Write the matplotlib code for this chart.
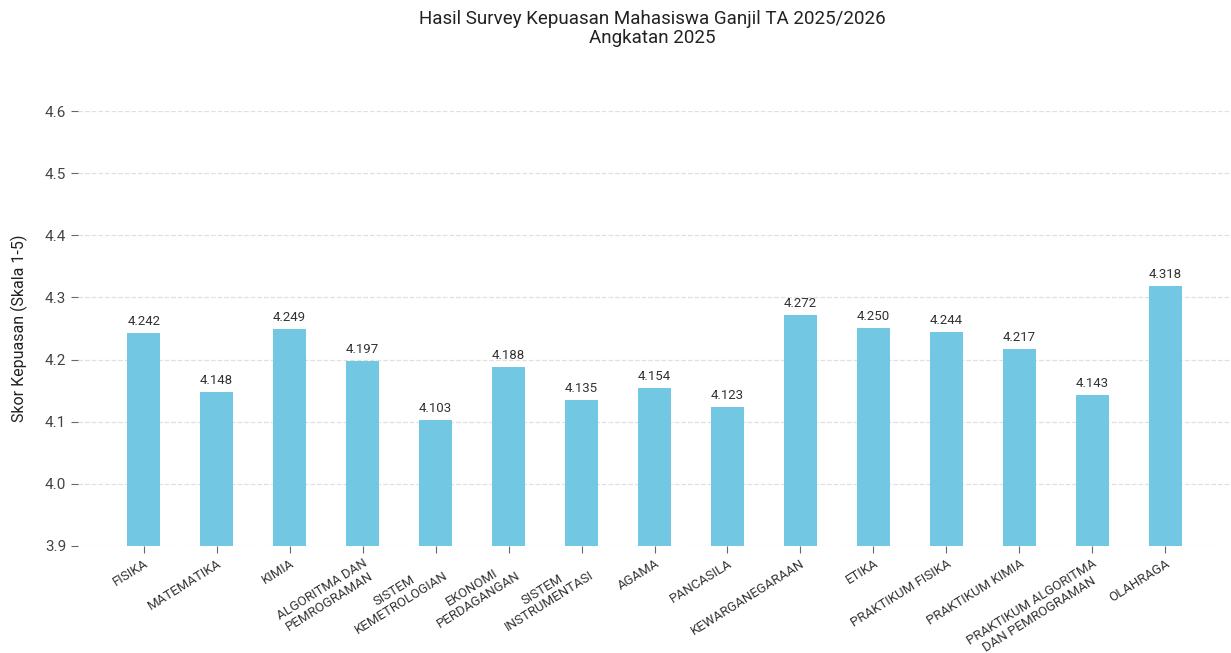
import numpy as np
import matplotlib.pyplot as plt

plt.rcParams['font.family'] = ['Roboto', 'DejaVu Sans']

courses = [
    "FISIKA", "MATEMATIKA", "KIMIA", "ALGORITMA DAN\nPEMROGRAMAN",
    "SISTEM\nKEMETROLOGIAN", "EKONOMI\nPERDAGANGAN", "SISTEM\nINSTRUMENTASI",
    "AGAMA", "PANCASILA", "KEWARGANEGARAAN", "ETIKA", "PRAKTIKUM FISIKA",
    "PRAKTIKUM KIMIA", "PRAKTIKUM ALGORITMA\nDAN PEMROGRAMAN", "OLAHRAGA",
]
scores = [4.242, 4.148, 4.249, 4.197, 4.103, 4.188, 4.135, 4.154,
          4.123, 4.272, 4.250, 4.244, 4.217, 4.143, 4.318]
yticks = [3.9, 4.0, 4.1, 4.2, 4.3, 4.4, 4.5, 4.6]

fig = plt.figure(figsize=(12.31, 6.53), dpi=100)
ax = fig.add_axes([0.0634, 0.164, 0.9366, 0.666])

x = np.arange(len(courses))
ax.bar(x, scores, width=0.45, color="#72C7E3", zorder=2)
for xi, v in zip(x, scores):
    ax.text(xi, v + 0.008, f"{v:.3f}", ha="center", va="bottom",
            fontsize=9.5, color="#333333")

ax.set_xlim(-0.9, len(courses) - 0.1)
ax.set_ylim(3.9, 4.6)
ax.set_yticks(yticks)
ax.set_yticklabels([f"{t:.1f}" for t in yticks], fontsize=11, color="#444444")
ax.set_xticks(x)
ax.set_xticklabels(courses, rotation=32, ha="right", rotation_mode="anchor",
                   fontsize=9.5, color="#333333", multialignment="center",
                   linespacing=1.1)
ax.tick_params(axis="both", color="#666666", length=5)
ax.tick_params(axis="x", pad=3)
ax.grid(axis="y", linestyle="--", color="#E0E0E0", linewidth=0.9, zorder=0)
for s in ax.spines.values():
    s.set_visible(False)
ax.set_ylabel("Skor Kepuasan (Skala 1-5)", fontsize=11.5, color="#222222", labelpad=12)

fig.suptitle("Hasil Survey Kepuasan Mahasiswa Ganjil TA 2025/2026\nAngkatan 2025",
             fontsize=13.5, color="#222222", y=0.985, x=0.53, linespacing=1.1)

fig.savefig("out.png", dpi=100)
